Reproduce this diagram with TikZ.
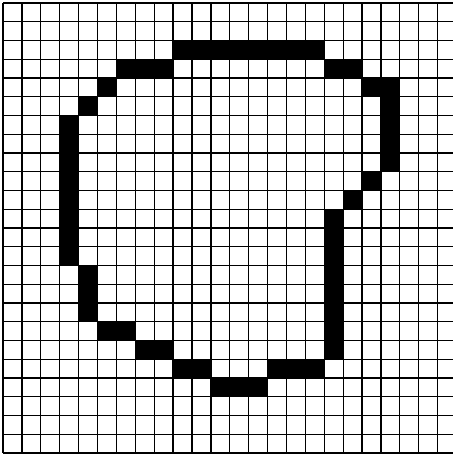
\documentclass[tikz,border=0pt]{standalone}
\begin{document}
\begin{tikzpicture}[x=0.378cm,y=-0.375cm]
\useasboundingbox (-0.16,-0.16) rectangle (23.81,24.27);
\foreach \xa/\ya/\xb/\yb in {9/2/17/3, 6/3/9/4, 17/3/19/4, 5/4/6/5, 19/4/21/5, 4/5/5/6, 20/5/21/9, 3/6/4/14, 19/9/20/10, 18/10/19/11, 17/11/18/19, 4/14/5/17, 5/17/7/18, 7/18/9/19, 9/19/11/20, 14/19/17/20, 11/20/14/21}
  \fill (\xa,\ya) rectangle (\xb,\yb);
\foreach \i in {0,...,23}
  \draw[line width=0.7pt] (\i,0) -- (\i,24);
\foreach \j in {0,...,24}
  \draw[line width=0.7pt] (0,\j) -- (23.81,\j);
\end{tikzpicture}
\end{document}
